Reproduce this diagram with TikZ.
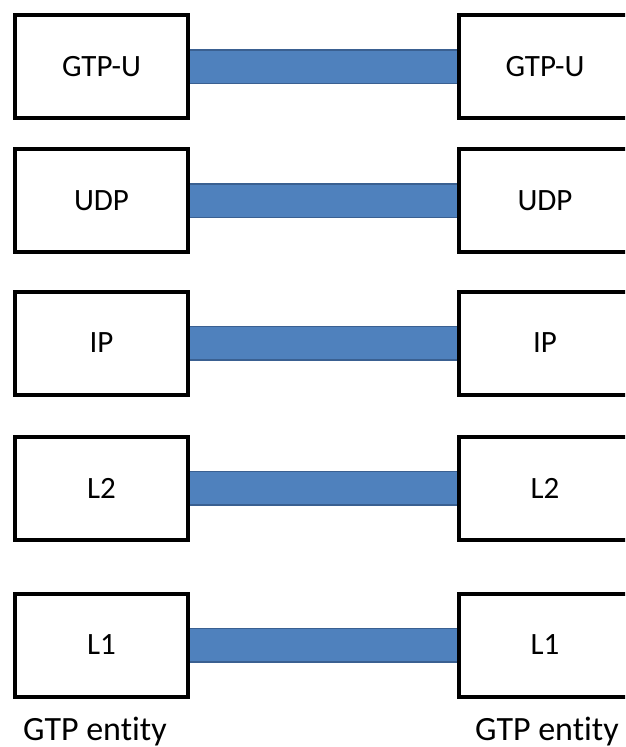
\documentclass[tikz,border=0pt]{standalone}
\usepackage{fontspec}
\setmainfont{Carlito}[Ligatures=NoCommon]
\usepackage{tikz}
\usetikzlibrary{positioning}
\definecolor{barfill}{HTML}{4F81BD}
\definecolor{barline}{HTML}{3A6091}

\begin{document}
\begin{tikzpicture}[x=1pt,y=-1pt,node distance=443.5pt,
                    layer/.style={draw,line width=4pt,fill=white,inner sep=0pt,
                                  minimum width=173pt,minimum height=103pt,
                                  font=\fontsize{31}{36}\selectfont},
                    link/.style={draw=barline,line width=1.5pt,double=barfill,
                                 double distance=32pt},
                    entity/.style={anchor=base west,inner sep=0pt,
                                   font=\fontsize{34}{40}\selectfont}]

  	\useasboundingbox (0,0) rectangle (625,747);
  	\clip (0,0) rectangle (625,747);

  	% protocol stacks
  	\node[layer] (l1) at (101.5,66.5)   	{GTP-U};
  	\node[layer] (r1) [right of=l1]    	{GTP-U};
  	\node[layer] (l2) at (101.5,200.5)  	{UDP};
  	\node[layer] (r2) [right of=l2]    	{UDP};
  	\node[layer] (l3) at (101.5,343)    	{IP};
  	\node[layer] (r3) [right of=l3]    	{IP};
  	\node[layer] (l4) at (101.5,488)    	{L2};
  	\node[layer] (r4) [right of=l4]    	{L2};
  	\node[layer] (l5) at (101.5,645)    	{L1};
  	\node[layer] (r5) [right of=l5]    	{L1};

  	% peer links
  	\path (l1) edge[link] (r1);
  	\path (l2) edge[link] (r2);
  	\path (l3) edge[link] (r3);
  	\path (l4) edge[link] (r4);
  	\path (l5) edge[link] (r5);

  	\node[entity] (lname) at (23,740)  	{GTP entity};
  	\node[entity] (rname) at (475,740) 	{GTP entity};

\end{tikzpicture}
\end{document}
